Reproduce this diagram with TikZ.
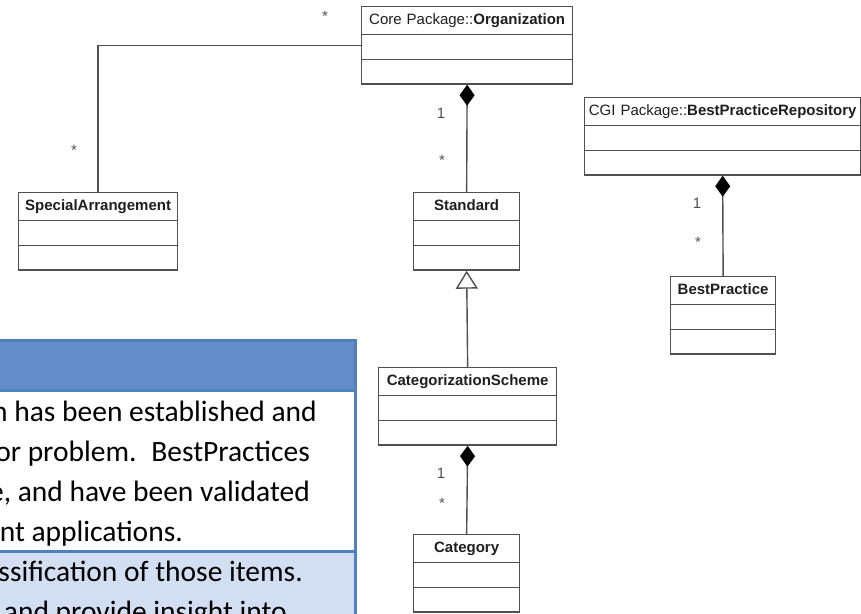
\documentclass[tikz,border=0pt]{standalone}
\usepackage{fontspec}
\setmainfont{Liberation Sans}
\newfontfamily\notefont{Carlito}
\usepackage{tikz}
\usetikzlibrary{arrows.meta,shapes.multipart}
\definecolor{umlLine}{HTML}{505050}
\definecolor{umlInk}{HTML}{1E1E1E}
\definecolor{multInk}{HTML}{505050}
\definecolor{noteBlue}{HTML}{4F81BD}
\definecolor{noteHead}{HTML}{648CCA}
\definecolor{noteBand}{HTML}{D2DEF1}
% empty attribute and operation compartments
\newcommand{\clsbody}{\nodepart{two}\rule{0pt}{23.5pt}\nodepart{three}\rule{0pt}{23.5pt}}
\newcommand{\clshead}{\rule[-9.5pt]{0pt}{26.5pt}}

\begin{document}
\begin{tikzpicture}[
  x=1pt, y=-1pt,
  umlclass/.style={
    rectangle split,
    rectangle split parts=3,
    draw=umlLine,
    line width=1.3pt,
    inner xsep=0pt,
    inner ysep=0pt,
    anchor=north west,
    align=center,
    text=umlInk,
    font=\fontsize{15}{18}\selectfont
  },
  assoc/.style={draw=umlLine, line width=1.4pt},
  comp/.style={assoc, -{Diamond[length=21pt, width=15pt, color=black]}},
  gen/.style={assoc, -{Triangle[open, length=18pt, width=22pt, fill=white]}},
  mult/.style={text=multInk, font=\fontsize{15}{16}\selectfont, inner sep=0pt},
  notetext/.style={anchor=base east, inner sep=0pt, font=\notefont\fontsize{29.5}{34}\selectfont}
]
  \useasboundingbox (0,0) rectangle (861,613);
  \clip (0,0) rectangle (861,613);

  % note panel on the left
  \fill[noteHead] (-5,340) rectangle (355,390);
  \fill[white] (-5,390) rectangle (355,551);
  \fill[noteBand] (-5,551) rectangle (355,625);
  \draw[noteBlue, line width=3pt] (-5,340) rectangle (355,625);
  \draw[noteBlue, line width=3pt] (-5,390) -- (355,390);
  \draw[noteBlue, line width=3pt] (-5,551) -- (355,551);

  \node[notetext] (t1) at (317,421) {h has been established and};
  \node[notetext] (t2) at (310,461) {or problem.\hspace{0.5em}BestPractices};
  \node[notetext] (t3) at (310,501) {e, and have been validated};
  \node[notetext] (t4) at (183,541) {nt applications.};
  \node[notetext] (t5) at (303,581) {ssification of those items.};
  \node[notetext] (t6) at (287,621) {and provide insight into};

  % classes
  \node[umlclass, text width=211pt] (org) at (361,6)
    {\clshead Core Package::\textbf{Organization}\clsbody};
  \node[umlclass, text width=159pt] (spec) at (18,192)
    {\clshead\textbf{SpecialArrangement}\clsbody};
  \node[umlclass, text width=106pt] (std) at (413,192)
    {\clshead\textbf{Standard}\clsbody};
  \node[umlclass, text width=178pt] (scheme) at (378,367)
    {\clshead\textbf{CategorizationScheme}\clsbody};
  \node[umlclass, text width=106pt] (cat) at (413,534)
    {\clshead\textbf{Category}\clsbody};
  \node[umlclass, text width=276pt] (repo) at (584,97)
    {\clshead CGI Package::\textbf{BestPracticeRepository}\clsbody};
  \node[umlclass, text width=105pt] (bp) at (670,276)
    {\clshead\textbf{BestPractice}\clsbody};

  % connectors
  \draw[assoc] (org.west) -| (spec.north);
  \draw[comp] (std.north) -- (org.south);
  \draw[gen] (scheme.north) -- (std.south);
  \draw[comp] (cat.north) -- (scheme.south);
  \draw[comp] (bp.north) -- (repo.south);

  % multiplicities
  \node[mult] (mOrgA) at (325,16) {*};
  \node[mult] (mSpec) at (74,150) {*};
  \node[mult] (mOrg1) at (441,113) {1};
  \node[mult] (mStd) at (442,160) {*};
  \node[mult] (mScheme1) at (441,473) {1};
  \node[mult] (mCat) at (442,503) {*};
  \node[mult] (mRepo1) at (697,203) {1};
  \node[mult] (mBp) at (698,242) {*};
\end{tikzpicture}
\end{document}
